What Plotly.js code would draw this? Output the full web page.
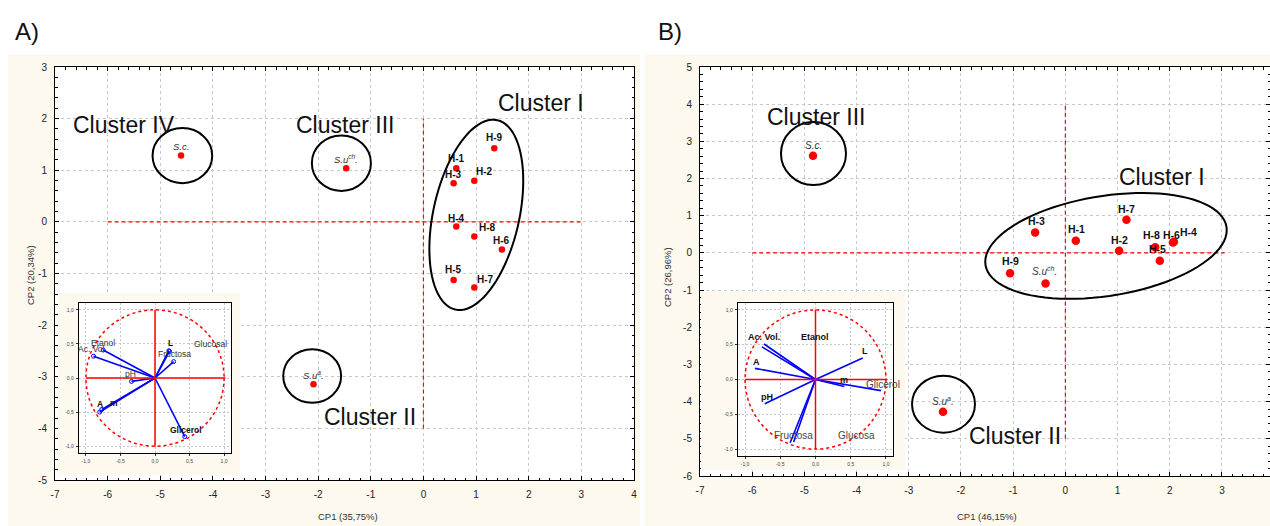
<!DOCTYPE html>
<html><head><meta charset="utf-8">
<script src="https://cdn.plot.ly/plotly-3.0.1.min.js"></script>
<style>html,body{margin:0;padding:0;background:#fff}#chart{width:1270px;height:526px}</style>
</head><body><div id="chart"></div>
<script>
// ===== DATA =====
// Panel A – PCA scores
const labelsA = ['<i>S.c.</i>','<i>S.u<sup>ch</sup>.</i>','<i>S.u<sup>a</sup>.</i>','H-1','H-2','H-3','H-4','H-5','H-6','H-7','H-8','H-9'];
const cp1A = [-4.605,-1.468,-2.089,0.624,0.966,0.573,0.624,0.573,1.490,0.966,0.966,1.346];
const cp2A = [1.285,1.040,-3.145,1.040,0.795,0.750,-0.090,-1.124,-0.536,-1.273,-0.285,1.428];
// Panel A – loadings (inset)
const loadLabelsA = ['Etanol','Ac. Vol.','pH','A','m','L','Fructosa','Glucosal','Glicerol'];
const loadXA = [-0.75,-0.89,-0.34,-0.80,-0.77,0.21,0.27,0.20,0.43];
const loadYA = [0.41,0.32,-0.05,-0.50,-0.46,0.39,0.24,0.40,-0.86];
// Panel B – PCA scores
const labelsB = ['<i>S.c.</i>','<i>S.u<sup>a</sup>.</i>','<i>S.u<sup>ch</sup>.</i>','H-1','H-2','H-3','H-4','H-5','H-6','H-7','H-8','H-9'];
const cp1B = [-4.835,-2.345,-0.38,0.20,1.03,-0.58,2.08,1.81,2.06,1.17,1.72,-1.06];
const cp2B = [2.61,-4.27,-0.82,0.33,0.06,0.55,0.30,-0.21,0.28,0.89,0.15,-0.55];
// Panel B – loadings (inset)
const loadLabelsB = ['Ac. Vol.','Etanol','A','L','m','Glicerol','pH','Fructosa','Glucosa'];
const loadXB = [-0.73,-0.76,-0.86,0.67,0.41,0.93,-0.72,-0.36,-0.31];
const loadYB = [0.51,0.47,0.16,0.31,-0.10,-0.16,-0.35,-0.91,-0.90];
// Tick values
const xTicksA = [-7,-6,-5,-4,-3,-2,-1,0,1,2,3,4];
const yTicksA = [-5,-4,-3,-2,-1,0,1,2,3];
const xTicksB = [-7,-6,-5,-4,-3,-2,-1,0,1,2,3];
const yTicksB = [-6,-5,-4,-3,-2,-1,0,1,2,3,4,5];
const insetTicks = [-1,-0.5,0,0.5,1];
const insetTickText = ['-1,0','-0,5','0,0','0,5','1,0'];

// ===== STYLE / LAYOUT HELPERS =====
const W = 1270, H = 526;
const FF = 'Arial, "Liberation Sans", Helvetica, sans-serif';
const CREAM = '#fdf9ee';
const px = v => v / W, py = v => 1 - v / H;
// label offsets [xshift, yshift] in px
const offA = [[0,9],[0,9],[0,9],[0,10],[10,9],[0,9],[0,8],[0,10],[0,9],[11,8],[13,9],[0,11]];
const offB = [[0,10],[0,11],[-1,12],[1,12],[0,11],[1,11],[15,10],[-2,12],[-1,8],[0,11],[-4,12],[0,12]];
const loadOffA = [[0,7.5],[-1,7],[-1,7],[0,8],[12.5,6],[1,8],[1,8],[42,7],[1.5,7]];
const loadBoldA = [false,false,false,true,true,true,false,false,true];
const loadOffB = [[0,7],[52.7,9.7],[1.5,6.4],[1.9,6.5],[0,6.4],[1.8,6.3],[2,6.6],[3.8,7.7],[62.8,7]];
const loadBoldB = [true,true,true,true,true,false,true,false,false];

function mainAxis(domain, range, ticks) {
  return {domain, range, tickmode:'array', tickvals:ticks, ticktext:ticks.map(String),
    showgrid:true, gridcolor:'#c8c8c8', griddash:'3px,3px', gridwidth:1, zeroline:false,
    showline:true, linecolor:'#000', linewidth:1, mirror:'allticks',
    ticks:'inside', ticklen:4, tickcolor:'#000', tickwidth:1,
    minor:{tickmode:'linear', tick0:0, dtick:0.2, ticks:'inside', ticklen:2.5, tickcolor:'#000', tickwidth:1, showgrid:false},
    tickfont:{family:FF, size:10, color:'#222'}, ticklabelstandoff:5, fixedrange:true};
}
function insetAxis(domain) {
  return {domain, range:[-1.1,1.1], tickmode:'array', tickvals:insetTicks, ticktext:insetTickText,
    showgrid:true, gridcolor:'#b8b8b8', griddash:'2px,2px', gridwidth:0.8, zeroline:false,
    showline:true, linecolor:'#000', linewidth:1.2, mirror:true,
    ticks:'outside', ticklen:2, tickcolor:'#000', tickwidth:0.8,
    tickfont:{family:FF, size:5, color:'#444'}, ticklabelstandoff:1, fixedrange:true};
}
function blankAxis(domain) {
  return {domain, range:[0.01,0.99], visible:false, fixedrange:true};
}
function ellipsePath(cx, cy, aPx, bPx, angDeg, sx, sy) {
  const th = angDeg * Math.PI / 180; let d = '';
  for (let i = 0; i <= 90; i++) {
    const t = 2 * Math.PI * i / 90;
    const ex = aPx*Math.cos(t)*Math.cos(th) - bPx*Math.sin(t)*Math.sin(th);
    const ey = aPx*Math.cos(t)*Math.sin(th) + bPx*Math.sin(t)*Math.cos(th);
    d += (i ? 'L' : 'M') + (cx + ex/sx).toFixed(4) + ',' + (cy + ey/sy).toFixed(4);
  }
  return d + 'Z';
}
function vectorXY(xs, ys) {
  const x = [], y = [];
  xs.forEach((v, i) => { x.push(0, v, null); y.push(0, ys[i], null); });
  return {x, y};
}

// ===== TRACES =====
const vA = vectorXY(loadXA, loadYA), vB = vectorXY(loadXB, loadYB);
const traces = [
  {type:'scatter', mode:'markers', x:cp1A, y:cp2A, xaxis:'x', yaxis:'y',
   marker:{color:'#ff0000', size:6.5}, hoverinfo:'skip'},
  {type:'scatter', mode:'lines', x:[0,1,1,0,0], y:[0,0,1,1,0], xaxis:'x2', yaxis:'y2',
   fill:'toself', fillcolor:CREAM, line:{width:0}, hoverinfo:'skip'},
  {type:'scatter', mode:'lines', x:vA.x, y:vA.y, xaxis:'x3', yaxis:'y3',
   line:{color:'#0000ff', width:1.6}, hoverinfo:'skip'},
  {type:'scatter', mode:'markers', x:loadXA, y:loadYA, xaxis:'x3', yaxis:'y3',
   marker:{symbol:'circle-open', color:'#0000ff', size:4, line:{width:1}}, hoverinfo:'skip'},
  {type:'scatter', mode:'markers', x:cp1B, y:cp2B, xaxis:'x4', yaxis:'y4',
   marker:{color:'#ff0000', size:8.5}, hoverinfo:'skip'},
  {type:'scatter', mode:'lines', x:[0,1,1,0,0], y:[0,0,1,1,0], xaxis:'x5', yaxis:'y5',
   fill:'toself', fillcolor:CREAM, line:{width:0}, hoverinfo:'skip'},
  {type:'scatter', mode:'lines', x:vB.x, y:vB.y, xaxis:'x6', yaxis:'y6',
   line:{color:'#0000ff', width:1.6}, hoverinfo:'skip'}
];

// ===== ANNOTATIONS =====
const ann = [];
const txt = (xref, yref, x, y, text, size, opts) => Object.assign({xref, yref, x, y, text, showarrow:false,
  xanchor:'center', yanchor:'middle', font:{family:FF, size, color:'#111'}}, opts || {});
labelsA.forEach((t, i) => ann.push(txt('x','y',cp1A[i],cp2A[i], i<3 ? t : '<b>'+t+'</b>', i<3 ? 9.5 : 10,
  {xshift:offA[i][0], yshift:offA[i][1], font:{family:FF, size:i<3?9.5:10, color:i<3?'#333':'#111'}})));
labelsB.forEach((t, i) => ann.push(txt('x4','y4',cp1B[i],cp2B[i], i<3 ? t : '<b>'+t+'</b>', i<3 ? 10 : 10.5,
  {xshift:offB[i][0], yshift:offB[i][1], font:{family:FF, size:i<3?10:10.5, color:i<3?'#333':'#111'}})));
loadLabelsA.forEach((t, i) => ann.push(txt('x3','y3',loadXA[i],loadYA[i], loadBoldA[i]?'<b>'+t+'</b>':t, 8.5,
  {xshift:loadOffA[i][0], yshift:loadOffA[i][1], font:{family:FF, size:8.5, color:loadBoldA[i]?'#111':'#333'}})));
loadLabelsB.forEach((t, i) => ann.push(txt('x6','y6',loadXB[i],loadYB[i], loadBoldB[i]?'<b>'+t+'</b>':t, 9,
  {xshift:loadOffB[i][0], yshift:loadOffB[i][1], font:{family:FF, size:loadBoldB[i]?9:10, color:loadBoldB[i]?'#111':'#444'}})));
// cluster names
[['Cluster IV',-5.69,1.88],['Cluster III',-1.50,1.88],['Cluster I',2.24,2.31],['Cluster II',-1.01,-3.78]]
  .forEach(c => ann.push(txt('x','y',c[1],c[2],c[0],23)));
[['Cluster III',-4.78,3.66],['Cluster I',1.85,2.04],['Cluster II',-0.97,-4.92]]
  .forEach(c => ann.push(txt('x4','y4',c[1],c[2],c[0],23)));
// panel letters and axis titles
const tf = {family:FF, size:9.5, color:'#333'};
ann.push(txt('paper','paper',px(27),py(31),'A)',24));
ann.push(txt('paper','paper',px(670),py(31),'B)',24));
ann.push(txt('paper','paper',px(348),py(516),'CP1 (35,75%)',9.5,{font:tf}));
ann.push(txt('paper','paper',px(987),py(516),'CP1 (46,15%)',9.5,{font:tf}));
ann.push(txt('paper','paper',px(30),py(275),'CP2 (20,34%)',9.5,{textangle:-90,font:tf}));
ann.push(txt('paper','paper',px(667),py(277),'CP2 (26,96%)',9.5,{textangle:-90,font:tf}));

// ===== SHAPES =====
const rect = (x0,y0,x1,y1,fill) => ({type:'rect', xref:'paper', yref:'paper', x0:px(x0), x1:px(x1), y0:py(y1), y1:py(y0),
  fillcolor:fill, line:{width:0}, layer:'below'});
const sxA = 579/11, syA = 413/8, sxB = 570/10.92, syB = 409/11;
const red = {color:'#ff0000', width:1.2, dash:'4px,3px'};
const blk = {color:'#000', width:2};
const shapes = [
  rect(8,55,640,526,CREAM), rect(645,55,1270,526,CREAM),
  rect(55,67,634,480,'#ffffff'), rect(700,67,1270,476,'#ffffff'),
  // Panel A
  {type:'line', xref:'x', yref:'y', x0:-6, x1:3, y0:0, y1:0, line:red},
  {type:'line', xref:'x', yref:'y', x0:0, x1:0, y0:-4, y1:2, line:red},
  {type:'circle', xref:'x', yref:'y', x0:-4.58-0.567, x1:-4.58+0.567, y0:1.283-0.533, y1:1.283+0.533, line:blk},
  {type:'circle', xref:'x', yref:'y', x0:-1.559-0.561, x1:-1.559+0.561, y0:1.137-0.537, y1:1.137+0.537, line:blk},
  {type:'circle', xref:'x', yref:'y', x0:-2.114-0.55, x1:-2.114+0.55, y0:-2.985-0.52, y1:-2.985+0.52, line:blk},
  {type:'path', xref:'x', yref:'y', path:ellipsePath(1.004,0.136,97,43,77.5,sxA,syA), line:blk},
  // Panel B
  {type:'line', xref:'x4', yref:'y4', x0:-6, x1:3.05, y0:0, y1:0, line:red},
  {type:'line', xref:'x4', yref:'y4', x0:0, x1:0, y0:-5, y1:4, line:red},
  {type:'circle', xref:'x4', yref:'y4', x0:-4.826-0.623, x1:-4.826+0.623, y0:2.675-0.847, y1:2.675+0.847, line:blk},
  {type:'circle', xref:'x4', yref:'y4', x0:-2.335-0.603, x1:-2.335+0.603, y0:-4.07-0.766, y1:-4.07+0.766, line:blk},
  {type:'path', xref:'x4', yref:'y4', path:ellipsePath(0.778,0.188,122,50,9,sxB,syB), line:blk},
];
// inset circles and axes
[['x3','y3'],['x6','y6']].forEach(([xr,yr]) => {
  shapes.push({type:'circle', xref:xr, yref:yr, x0:-1, x1:1, y0:-1, y1:1, line:{color:'#ff0000', width:1.5, dash:'dot'}});
  shapes.push({type:'line', xref:xr, yref:yr, x0:-1, x1:1.02, y0:0, y1:0, line:{color:'#ff0000', width:1.5}});
  shapes.push({type:'line', xref:xr, yref:yr, x0:0, x1:0, y0:-1, y1:1, line:{color:'#ff0000', width:1.5}});
});

const layout = {
  width:W, height:H, margin:{l:0,r:0,t:0,b:0}, showlegend:false,
  paper_bgcolor:'white', plot_bgcolor:'white', separators:', ',
  font:{family:FF},
  xaxis: mainAxis([px(55),px(634)], [-7,4], xTicksA),
  yaxis: mainAxis([py(480),py(67)], [-5,3], yTicksA),
  xaxis2: blankAxis([px(58),px(240)]), yaxis2: blankAxis([py(475),py(293)]),
  xaxis3: insetAxis([px(79),px(231)]), yaxis3: insetAxis([py(453),py(303)]),
  xaxis4: mainAxis([px(700),1], [-7,3.92], xTicksB),
  yaxis4: mainAxis([py(476),py(67)], [-6,5], yTicksB),
  xaxis5: blankAxis([px(701),px(905)]), yaxis5: blankAxis([py(470),py(292)]),
  xaxis6: insetAxis([px(738),px(893)]), yaxis6: insetAxis([py(456),py(303)]),
  shapes, annotations:ann
};
['xaxis','xaxis2','xaxis3','xaxis4','xaxis5','xaxis6'].forEach((k,i)=>{ layout[k].anchor = 'y'+(i?i+1:''); });
['yaxis','yaxis2','yaxis3','yaxis4','yaxis5','yaxis6'].forEach((k,i)=>{ layout[k].anchor = 'x'+(i?i+1:''); });
Plotly.newPlot('chart', traces, layout, {staticPlot:true, displayModeBar:false});
</script></body></html>
